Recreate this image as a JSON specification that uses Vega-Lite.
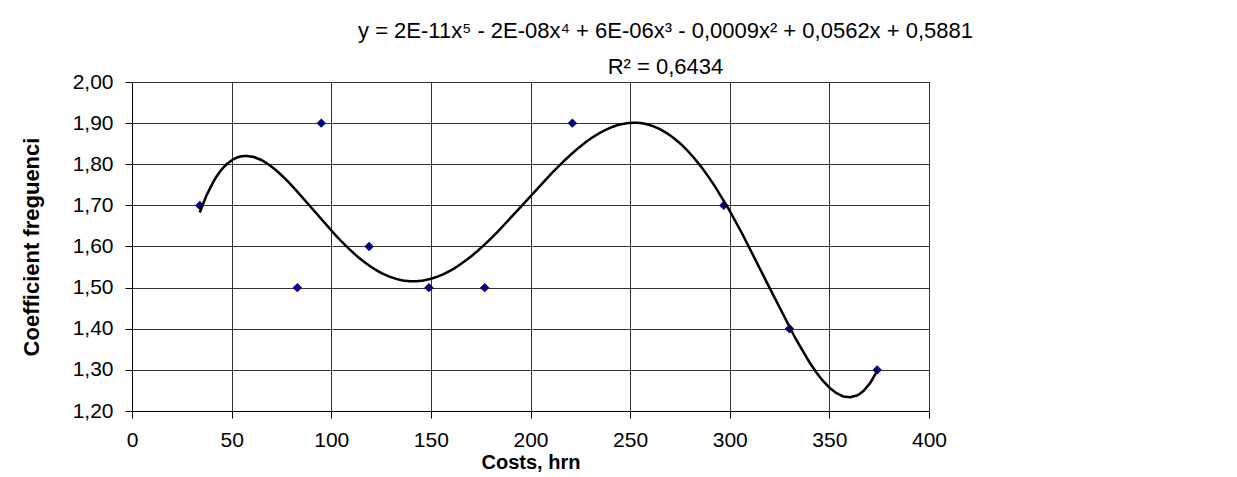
{
  "$schema": "https://vega.github.io/schema/vega-lite/v6.json",
  "autosize": {"type": "none"},
  "width": 797,
  "height": 329,
  "padding": {"left": 132, "top": 82, "right": 308, "bottom": 66},
  "background": "white",
  "config": {
    "font": "Liberation Sans",
    "view": {"stroke": "black", "strokeWidth": 1},
    "axis": {
      "labelFont": "Liberation Sans",
      "labelFontSize": 21,
      "labelColor": "black",
      "titleFont": "Liberation Sans",
      "titleFontSize": 22,
      "titleFontWeight": "bold",
      "titleColor": "black",
      "domainColor": "black",
      "tickColor": "black",
      "tickSize": 7,
      "gridColor": "#333333",
      "gridWidth": 1
    }
  },
  "title": {
    "text": ["y = 2E-11x⁵ - 2E-08x⁴ + 6E-06x³ - 0,0009x² + 0,0562x + 0,5881", "R² = 0,6434"],
    "font": "Liberation Sans",
    "fontSize": 22,
    "fontWeight": "normal",
    "color": "black",
    "anchor": "middle",
    "dx": 135,
    "offset": -8,
    "lineHeight": 36
  },
  "data": {
    "values": [
      {"costs": 34, "coef": 1.70},
      {"costs": 83, "coef": 1.50},
      {"costs": 95, "coef": 1.90},
      {"costs": 119, "coef": 1.60},
      {"costs": 149, "coef": 1.50},
      {"costs": 177, "coef": 1.50},
      {"costs": 221, "coef": 1.90},
      {"costs": 297, "coef": 1.70},
      {"costs": 330, "coef": 1.40},
      {"costs": 374, "coef": 1.30}
    ]
  },
  "layer": [
    {
      "mark": {"type": "point", "shape": "diamond", "filled": true, "color": "#000080", "size": 90, "opacity": 1},
      "encoding": {
        "x": {
          "field": "costs", "type": "quantitative",
          "scale": {"domain": [0, 400], "nice": false, "zero": false},
          "axis": {"values": [0, 50, 100, 150, 200, 250, 300, 350, 400], "title": "Costs, hrn", "titleFontSize": 20, "labelPadding": 11, "titlePadding": 2, "labelFlush": false}
        },
        "y": {
          "field": "coef", "type": "quantitative",
          "scale": {"domain": [1.2, 2.0], "nice": false, "zero": false},
          "axis": {
            "values": [1.2, 1.3, 1.4, 1.5, 1.6, 1.7, 1.8, 1.9, 2.0],
            "labelExpr": "replace(format(datum.value, '.2f'), '.', ',')",
            "title": "Coefficient freguenci",
            "labelPadding": 12,
            "titlePadding": 29
          }
        }
      }
    },
    {
      "transform": [{"regression": "coef", "on": "costs", "method": "poly", "order": 5}],
      "mark": {"type": "line", "color": "black", "strokeWidth": 2.5},
      "encoding": {
        "x": {"field": "costs", "type": "quantitative"},
        "y": {"field": "coef", "type": "quantitative"}
      }
    }
  ]
}
